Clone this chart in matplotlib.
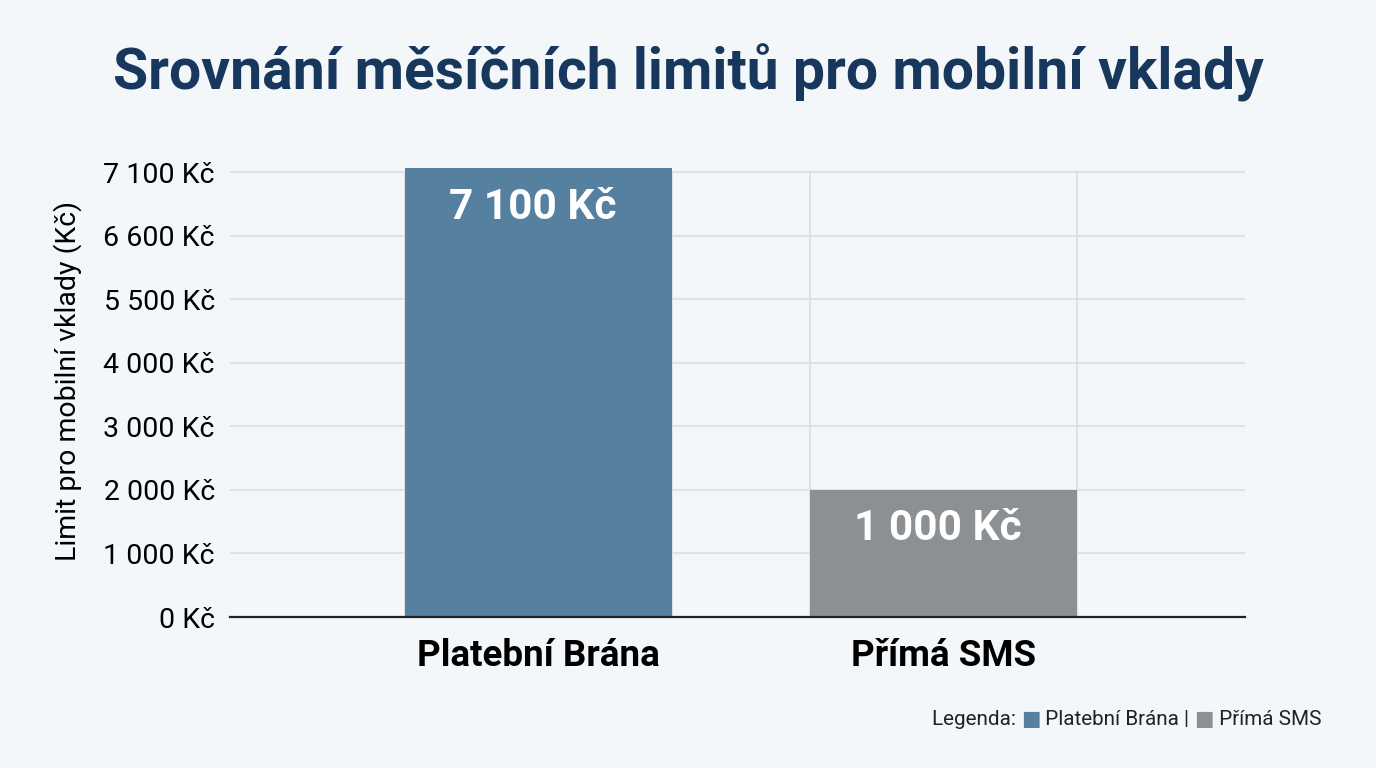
import matplotlib

matplotlib.use("Agg")
import matplotlib.pyplot as plt

plt.rcParams["font.family"] = ["Roboto", "DejaVu Sans"]

# data (bar heights in axis-tick units, axis is not linear)
categories = ["Platební Brána", "Přímá SMS"]
bar_heights = [7.06, 2.0]
bar_labels = ["7 100 Kč", "1 000 Kč"]
tick_labels = ["0 Kč", "1 000 Kč", "2 000 Kč", "3 000 Kč",
               "4 000 Kč", "5 500 Kč", "6 600 Kč", "7 100 Kč"]
colors = ["#56809f", "#8d9093"]

BG = "#f4f7fa"
TITLE = "#17375c"
GRID = "#d9dee3"
BAR_W = 0.66

fig = plt.figure(figsize=(13.76, 7.68), dpi=100, facecolor=BG)
ax = fig.add_axes([0.1672, 0.1966, 0.7376, 0.5918])
ax.set_facecolor(BG)

xs = list(range(len(categories)))
ax.bar(xs, bar_heights, width=BAR_W, color=colors, zorder=3)

# vertical grid lines sit on the bar edges
top = len(tick_labels) - 1
for x in xs:
    for edge in (x - BAR_W / 2, x + BAR_W / 2):
        ax.vlines(edge, 0, top, color=GRID, lw=1.2, zorder=1)

ax.set_yticks(range(len(tick_labels)))
ax.set_yticklabels(tick_labels, fontsize=20.5)
ax.yaxis.grid(True, color=GRID, lw=1.2, zorder=1)
ax.set_axisbelow(True)
ax.tick_params(axis="y", length=0, pad=11)
ax.tick_params(axis="x", length=0, pad=15)
ax.set_xticks(xs)
ax.set_xticklabels(categories, fontsize=26.5, fontweight="bold")
ax.set_xlim(-0.762, 1.744)
ax.set_ylim(0, 7.15)
for side in ("top", "right", "left"):
    ax.spines[side].set_visible(False)
ax.spines["bottom"].set_color("#222222")
ax.spines["bottom"].set_linewidth(1.6)
ax.spines["bottom"].set_zorder(4)
ax.set_ylabel("Limit pro mobilní vklady (Kč)", fontsize=20.5)
ax.yaxis.set_label_coords(-0.146, 0.52)

for x, h, lab in zip(xs, bar_heights, bar_labels):
    ax.annotate(lab, (x - 0.015, h), xytext=(0, -28), textcoords="offset points",
                ha="center", va="center", color="white",
                fontsize=30.5, fontweight="bold", zorder=5)

fig.text(0.5, 0.905, "Srovnání měsíčních limitů pro mobilní vklady",
         ha="center", va="center", fontsize=41, fontweight="bold", color=TITLE)

# legend line: text pieces chained one after another
t = fig.text(0.677, 0.063, "Legenda: ", fontsize=14.9, color="#222222", va="center")
parts = [("■", colors[0]), (" Platební Brána | ", "#222222"),
         ("■", colors[1]), (" Přímá SMS", "#222222")]
for s, c in parts:
    t = ax.annotate(s, xy=(1, 0.5), xycoords=t, va="center", ha="left",
                    fontsize=14.9, color=c, annotation_clip=False)

fig.savefig("out.png", dpi=100, facecolor=BG)
